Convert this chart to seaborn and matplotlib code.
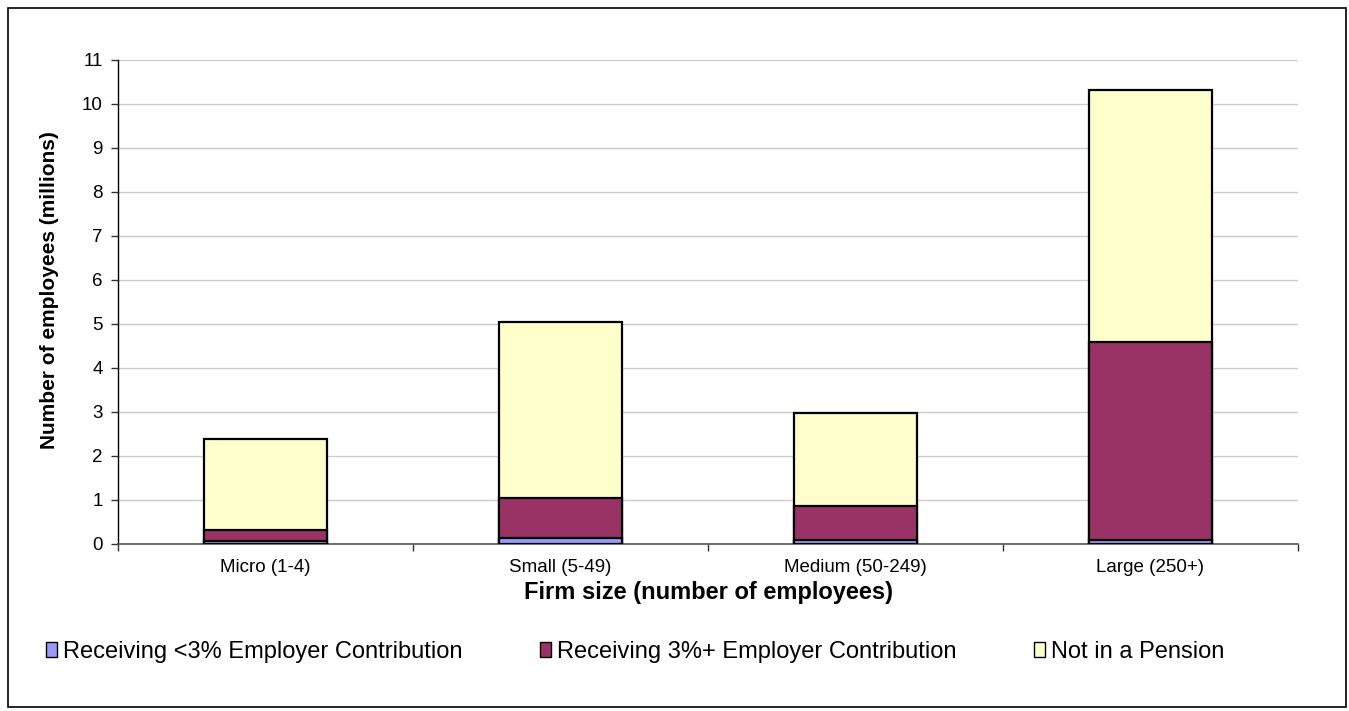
import matplotlib
matplotlib.use("Agg")
import matplotlib.pyplot as plt
from matplotlib.patches import Rectangle, Patch
import seaborn as sns
import numpy as np
import pandas as pd

categories = ["Micro (1-4)", "Small (5-49)", "Medium (50-249)", "Large (250+)"]
lt3 = [0.06, 0.13, 0.08, 0.08]           # Receiving <3% Employer Contribution
ge3 = [0.25, 0.91, 0.795, 4.50]          # Receiving 3%+ Employer Contribution
no_pension = [2.08, 4.01, 2.095, 5.73]   # Not in a Pension
series_names = ["Receiving <3% Employer Contribution",
                "Receiving 3%+ Employer Contribution",
                "Not in a Pension"]
colors = ["#9999FF", "#993366", "#FFFFCC"]
yticks = list(range(0, 12))

sns.set_theme(style="white")
plt.rcParams['font.family'] = ['Liberation Sans', 'DejaVu Sans']
plt.rcParams.update({"text.color": "black", "axes.labelcolor": "black",
                     "xtick.color": "black", "ytick.color": "black"})

fig = plt.figure(figsize=(13.49, 7.11), dpi=100)
ax = fig.add_axes([118/1349, 1-544/711, (1298-118)/1349, (544-60)/711])

c1 = np.array(lt3)
c2 = c1 + np.array(ge3)
c3 = c2 + np.array(no_pension)
df = pd.DataFrame({"cat": categories, "c1": c1, "c2": c2, "c3": c3})

for col, colr in zip(["c3", "c2", "c1"], colors[::-1]):
    sns.barplot(data=df, x="cat", y=col, color=colr, saturation=1, width=0.42,
                edgecolor="black", linewidth=1.6, ax=ax, zorder=3)

ax.set_xlim(-0.5, 3.5)
ax.set_ylim(0, 11)
ax.set_yticks(yticks)
ax.set_yticklabels([str(t) for t in yticks], fontsize=13.5)
ax.yaxis.grid(True, color="#cccccc", linewidth=1, zorder=0)
ax.set_axisbelow(True)
ax.tick_params(axis="y", left=True, length=5, width=1, color="#333333", pad=6)
ax.set_xticks(range(4))
ax.set_xticklabels(categories, fontsize=13.5)
ax.set_xticks([-0.5, 0.5, 1.5, 2.5, 3.5], minor=True)
ax.tick_params(axis="x", which="major", length=0, pad=10.5)
ax.tick_params(axis="x", which="minor", bottom=True, length=5, width=1, color="#333333")
for s in ["top", "right"]:
    ax.spines[s].set_visible(False)
ax.spines["left"].set_color("black")
ax.spines["left"].set_linewidth(1)
ax.spines["bottom"].set_color("#555555")
ax.spines["bottom"].set_linewidth(1.2)

ax.set_ylabel("Number of employees (millions)", fontsize=15, fontweight="bold")
ax.yaxis.set_label_coords((59 - 118) / 1180, (544 - 290) / 484)
ax.set_xlabel("Firm size (number of employees)", fontsize=17, fontweight="bold", labelpad=4)

xs = [46/1349, 540/1349, 1034/1349]
for name, colr, x in zip(series_names, colors, xs):
    fig.legend(handles=[Patch(facecolor=colr, edgecolor="black", linewidth=1)],
               labels=[name], loc="center left", bbox_to_anchor=(x, 1-652/711),
               frameon=False, fontsize=17, handlelength=0.45, handleheight=0.6,
               handletextpad=0.25, borderaxespad=0, borderpad=0)

fig.patches.append(Rectangle((8/1349, 4/711), 1338/1349, 699/711,
                             transform=fig.transFigure, fill=False,
                             edgecolor="black", linewidth=1.2))

fig.savefig("out.png", dpi=100, facecolor="white")
